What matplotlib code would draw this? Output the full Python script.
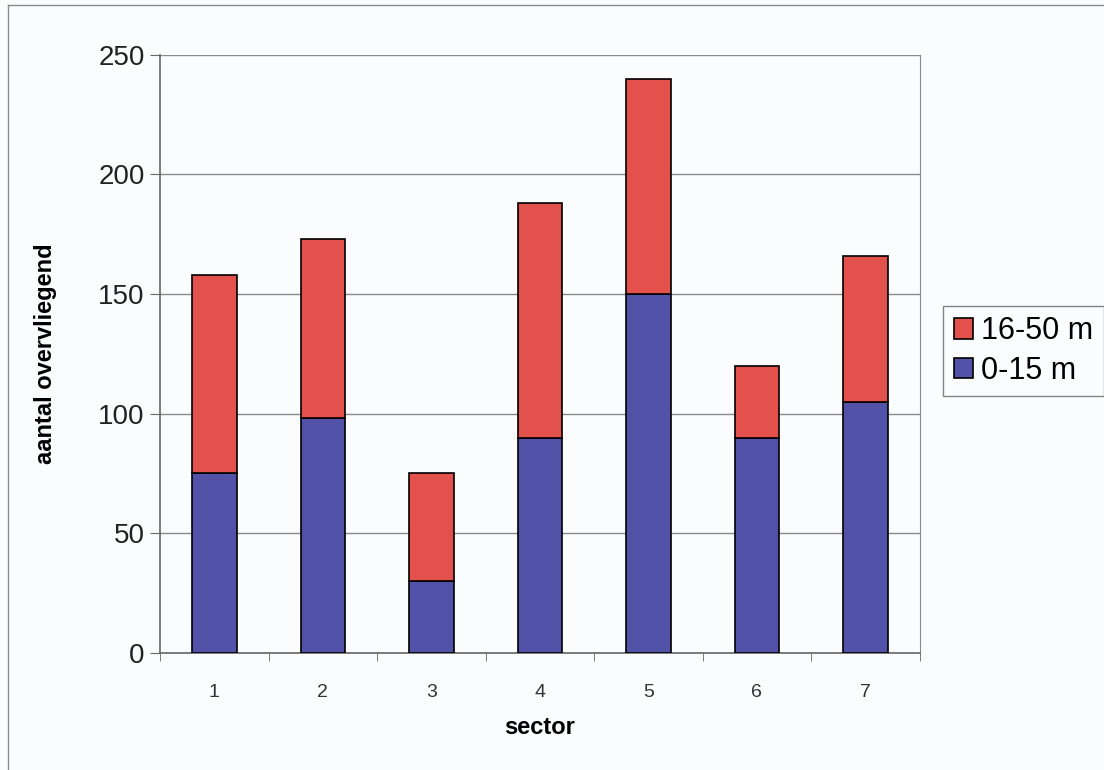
import matplotlib
matplotlib.use("Agg")
import matplotlib.pyplot as plt
from matplotlib.lines import Line2D

plt.rcParams['font.family'] = ['Liberation Sans', 'DejaVu Sans']

sectors = ['1', '2', '3', '4', '5', '6', '7']
near = [75, 98, 30, 90, 150, 90, 105]        # 0-15 m
far = [83, 75, 45, 98, 90, 30, 61]           # 16-50 m
y_ticks = [0, 50, 100, 150, 200, 250]

red = '#E2514B'
blue = '#5352A9'
bg = '#FBFCFD'

fig = plt.figure(figsize=(11.04, 7.70), dpi=100, facecolor=bg)
ax = fig.add_axes([0.145, 0.152, 0.688, 0.777], facecolor=bg)

x = range(len(sectors))
ax.bar(x, near, width=0.41, color=blue, edgecolor='black', linewidth=1.2,
       label='0-15 m', zorder=3)
ax.bar(x, far, width=0.41, bottom=near, color=red, edgecolor='black',
       linewidth=1.2, label='16-50 m', zorder=3)

ax.set_xlim(-0.5, len(sectors) - 0.5)
ax.set_ylim(0, 250)
ax.set_yticks(y_ticks)
ax.yaxis.grid(True, color='#8a8a8a', linewidth=1.0, zorder=0)

ax.set_xticks(x)
ax.set_xticklabels(sectors, fontsize=14, color='#333333')
ax.set_xticks([i + 0.5 for i in range(-1, len(sectors))], minor=True)
ax.tick_params(axis='x', which='major', length=0, pad=22)
ax.tick_params(axis='x', which='minor', length=6, direction='out',
               color='#666666')
ax.tick_params(axis='y', labelsize=20, length=7, color='#666666',
               labelcolor='#222222', pad=4)

ax.spines['top'].set_visible(False)
ax.spines['right'].set_color('#8a8a8a')
ax.spines['left'].set_color('#666666')
ax.spines['bottom'].set_color('#666666')
ax.spines['left'].set_linewidth(1.2)
ax.spines['bottom'].set_linewidth(1.2)

ax.set_xlabel('sector', fontsize=17, fontweight='bold', labelpad=11)
ax.set_ylabel('aantal overvliegend', fontsize=17, fontweight='bold',
              labelpad=30)

handles, labels = ax.get_legend_handles_labels()
leg = fig.legend(handles[::-1], labels[::-1], loc='upper left',
                 bbox_to_anchor=(0.854, 0.603), fontsize=22,
                 frameon=True, fancybox=False, edgecolor='#666666',
                 facecolor=bg, handlelength=0.65, handleheight=0.65,
                 handletextpad=0.25, borderpad=0.35, labelspacing=0.3,
                 borderaxespad=0)
leg.get_frame().set_linewidth(1.0)

# thin frame at the left and top of the figure
fig.add_artist(Line2D([0.0075, 0.0075], [0.0, 0.993], color='#8a8a8a',
                      linewidth=1.0, transform=fig.transFigure))
fig.add_artist(Line2D([0.0075, 1.0], [0.993, 0.993], color='#8a8a8a',
                      linewidth=1.0, transform=fig.transFigure))

fig.savefig('out.png', dpi=100, facecolor=bg)
